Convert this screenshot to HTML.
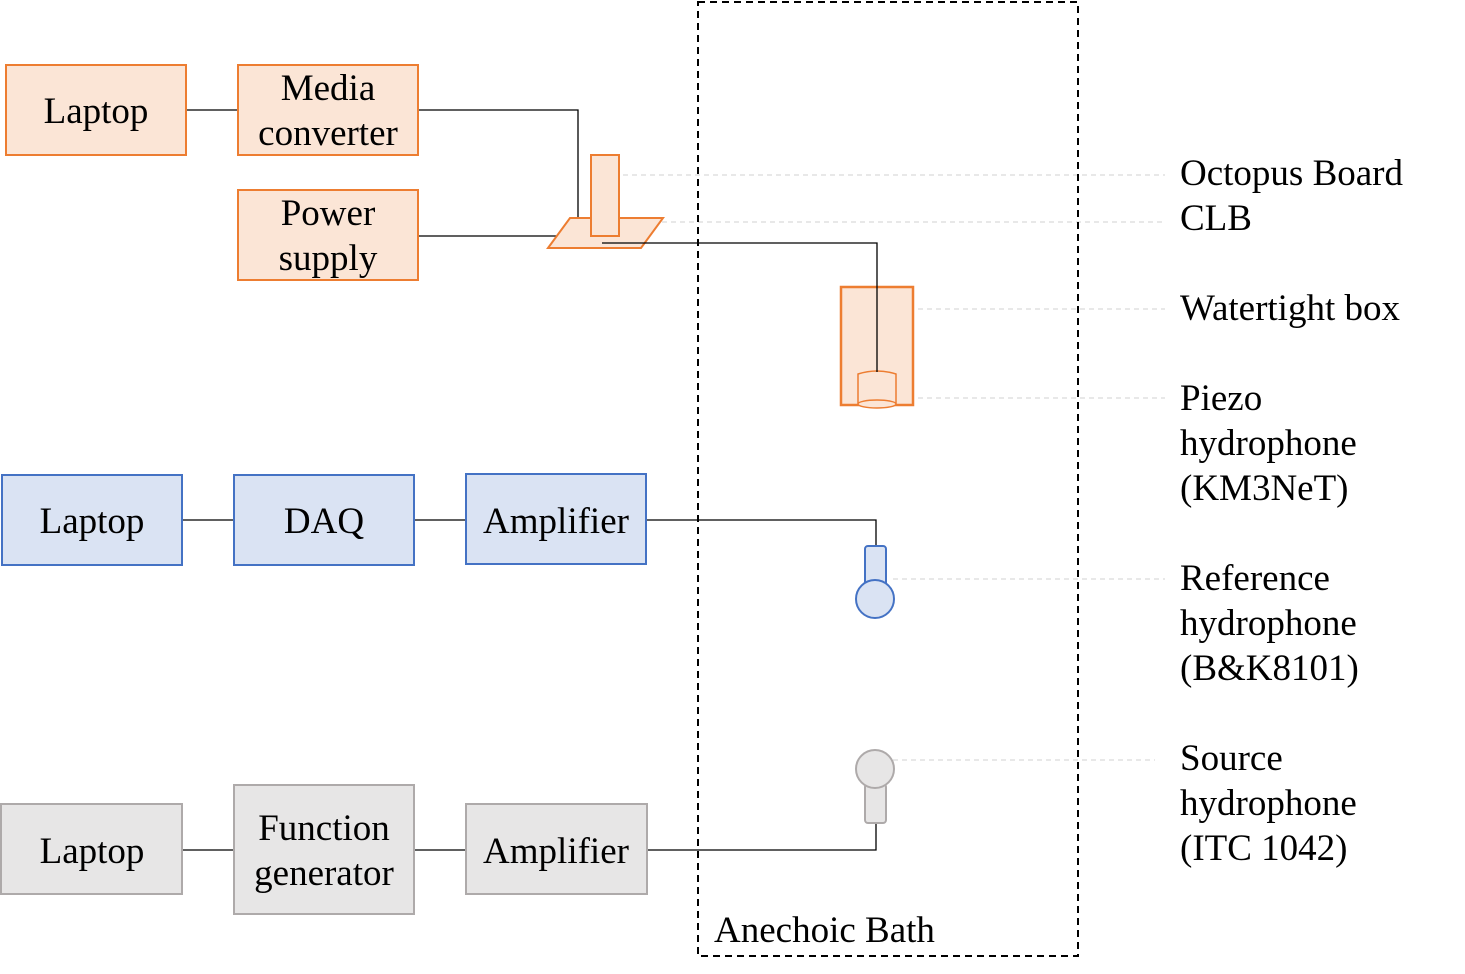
<!DOCTYPE html>
<html><head><meta charset="utf-8"><style>html,body{margin:0;padding:0;background:#fff}svg{display:block}text{font-family:"Liberation Serif","Times New Roman",serif;font-size:37px}</style></head>
<body>
<svg width="1465" height="974" viewBox="0 0 1465 974" xmlns="http://www.w3.org/2000/svg">
<g stroke="#d0d0d0" stroke-width="1" stroke-dasharray="5,4" fill="none">
<line x1="605" y1="175" x2="1165" y2="175"/>
<line x1="635" y1="222" x2="1165" y2="222"/>
<line x1="900" y1="309" x2="1165" y2="309"/>
<line x1="900" y1="398" x2="1165" y2="398"/>
<line x1="893" y1="579" x2="1165" y2="579"/>
<line x1="893" y1="760" x2="1155" y2="760"/>
</g>
<rect x="698" y="2" width="380" height="954" fill="none" stroke="#000" stroke-width="2" stroke-dasharray="7,5"/>
<g stroke="#000" stroke-width="1.3" fill="none">
<line x1="186" y1="110" x2="238" y2="110"/>
<polyline points="418,110 578,110 578,230"/>
<line x1="418" y1="236" x2="574" y2="236"/>
<line x1="182" y1="520" x2="234" y2="520"/>
<line x1="414" y1="520" x2="466" y2="520"/>
<polyline points="646,520 876,520 876,546"/>
<line x1="182" y1="850" x2="234" y2="850"/>
<line x1="414" y1="850" x2="466" y2="850"/>
<polyline points="647,850 876,850 876,823"/>
</g>
<g fill="#fbe5d6" stroke="#ed7d31" stroke-width="2">
<rect x="6" y="65" width="180" height="90"/>
<rect x="238" y="65" width="180" height="90"/>
<rect x="238" y="190" width="180" height="90"/>
<polygon points="548,248 570,218 663,218 641,248"/>
<rect x="591" y="155" width="28" height="81"/>
<rect x="841" y="287" width="72" height="118" stroke-width="2.5"/>
<path d="M858,374 Q877,368 896,374 L896,404 L858,404 Z" stroke-width="1.5"/>
<ellipse cx="877" cy="404" rx="19" ry="4" stroke-width="1.5"/>
</g>
<g stroke="#000" stroke-width="1.3" fill="none">
<polyline points="602,243 877,243 877,372"/>
</g>
<g fill="#dae3f3" stroke="#4472c4" stroke-width="2">
<rect x="2" y="475" width="180" height="90"/>
<rect x="234" y="475" width="180" height="90"/>
<rect x="466" y="474" width="180" height="90"/>
<rect x="865" y="546" width="21" height="46" rx="3"/>
<circle cx="875" cy="599" r="19"/>
</g>
<g fill="#e7e6e6" stroke="#aeaaaa" stroke-width="2">
<rect x="1" y="804" width="181" height="90"/>
<rect x="234" y="785" width="180" height="129"/>
<rect x="466" y="804" width="181" height="90"/>
<rect x="865" y="784" width="21" height="39" rx="3"/>
<circle cx="875" cy="769" r="19"/>
</g>
<g fill="#000" text-anchor="middle">
<text x="96" y="123">Laptop</text>
<text x="328" y="100">Media</text>
<text x="328" y="145">converter</text>
<text x="328" y="225">Power</text>
<text x="328" y="270">supply</text>
<text x="92" y="533">Laptop</text>
<text x="324" y="533">DAQ</text>
<text x="556" y="533">Amplifier</text>
<text x="92" y="863">Laptop</text>
<text x="324" y="840">Function</text>
<text x="324" y="885">generator</text>
<text x="556" y="863">Amplifier</text>
</g>
<g fill="#000">
<text x="714" y="942">Anechoic Bath</text>
<text x="1180" y="185">Octopus Board</text>
<text x="1180" y="230">CLB</text>
<text x="1180" y="320">Watertight box</text>
<text x="1180" y="410">Piezo</text>
<text x="1180" y="455">hydrophone</text>
<text x="1180" y="500">(KM3NeT)</text>
<text x="1180" y="590">Reference</text>
<text x="1180" y="635">hydrophone</text>
<text x="1180" y="680">(B&amp;K8101)</text>
<text x="1180" y="770">Source</text>
<text x="1180" y="815">hydrophone</text>
<text x="1180" y="860">(ITC 1042)</text>
</g>
</svg>
</body></html>
